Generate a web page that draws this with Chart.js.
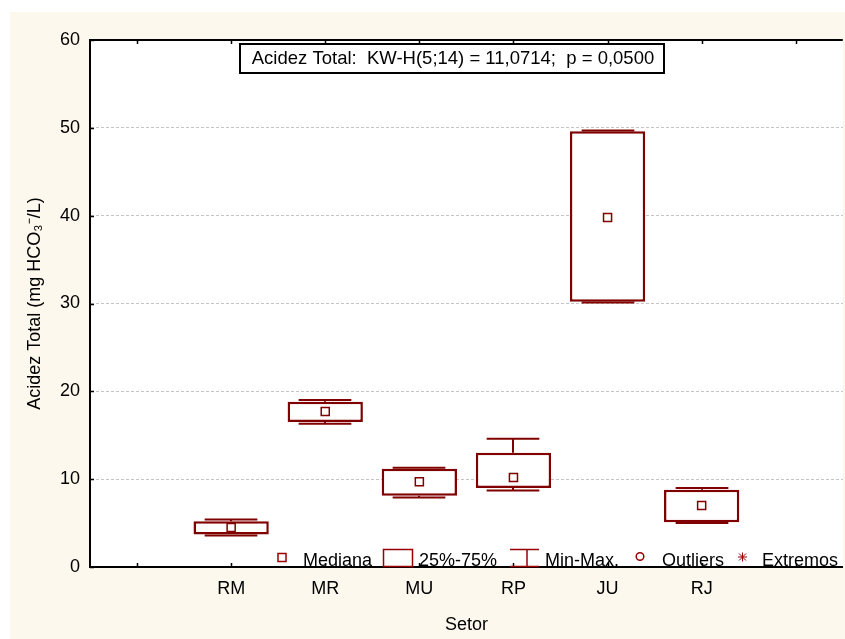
<!DOCTYPE html>
<html>
<head>
<meta charset="utf-8">
<title>Acidez Total por Setor</title>
<script src="https://cdn.jsdelivr.net/npm/chart.js@4"></script>
<style>
    html, body { margin: 0; padding: 0; overflow: hidden; background: #ffffff; }
    #wrap { position: relative; width: 845px; height: 639px; overflow: hidden; }
    canvas { display: block; }
</style>
</head>
<body>
<div id="wrap">
<canvas id="boxChart" width="850" height="639"></canvas>
</div>
<script>
// data
const sectors = ['RM', 'MR', 'MU', 'RP', 'JU', 'RJ'];
const minValues = [3.6, 16.3, 7.9, 8.7, 30.1, 5.0];
const q1Values = [3.7, 16.5, 8.1, 9.0, 30.2, 5.1];
const medianValues = [4.5, 17.7, 9.7, 10.2, 39.8, 7.0];
const q3Values = [5.2, 18.8, 11.2, 13.0, 49.6, 8.8];
const maxValues = [5.4, 19.0, 11.3, 14.6, 49.7, 9.0];
const yTicks = [0, 10, 20, 30, 40, 50, 60];

const titleText = 'Acidez Total:  KW-H(5;14) = 11,0714;  p = 0,0500';
const legendItems = ['Mediana', '25%-75%', 'Min-Max.', 'Outliers', 'Extremos'];

// empty slots at both ends, like the original axis
const categoryLabels = ['', ...sectors, ''];

const boxColor = '#800000';
const symbolColor = '#990000';
const fontFamily = "'Liberation Sans', Arial, sans-serif";

const boxPlotExtras = {
    id: 'boxPlotExtras',
    beforeDraw(chart) {
        const ctx = chart.ctx;
        const { left, top, right, bottom } = chart.chartArea;
        ctx.save();
        ctx.fillStyle = '#ffffff';
        ctx.fillRect(0, 0, chart.width, chart.height);
        ctx.fillStyle = '#fdf8ee';
        ctx.fillRect(10, 12, chart.width - 10, chart.height - 12);
        ctx.fillStyle = '#ffffff';
        ctx.fillRect(left, top, right - left, bottom - top);
        ctx.restore();
    },
    beforeDatasetsDraw(chart) {
        // whiskers (min-max) under the boxes
        const ctx = chart.ctx;
        const xs = chart.scales.x;
        const ys = chart.scales.y;
        const capHalf = (xs.width / categoryLabels.length) * 0.28;
        ctx.save();
        ctx.strokeStyle = boxColor;
        ctx.lineWidth = 2;
        sectors.forEach((s, i) => {
            const px = Math.round(xs.getPixelForValue(i + 1));
            const yMin = ys.getPixelForValue(minValues[i]);
            const yMax = ys.getPixelForValue(maxValues[i]);
            const yQ1 = ys.getPixelForValue(q1Values[i]);
            const yQ3 = ys.getPixelForValue(q3Values[i]);
            ctx.beginPath();
            ctx.moveTo(px, yMax); ctx.lineTo(px, yQ3);
            ctx.moveTo(px, yQ1); ctx.lineTo(px, yMin);
            ctx.moveTo(px - capHalf, yMax); ctx.lineTo(px + capHalf, yMax);
            ctx.moveTo(px - capHalf, yMin); ctx.lineTo(px + capHalf, yMin);
            ctx.stroke();
        });
        ctx.restore();
    },
    afterDraw(chart) {
        const ctx = chart.ctx;
        const { left, top, right, bottom } = chart.chartArea;
        const xs = chart.scales.x;
        const ys = chart.scales.y;
        ctx.save();

        // top frame line and inward ticks
        ctx.strokeStyle = '#000000';
        ctx.lineWidth = 2;
        ctx.beginPath();
        ctx.moveTo(left - 1, top);
        ctx.lineTo(right, top);
        ctx.stroke();
        ctx.lineWidth = 1.5;
        ctx.beginPath();
        categoryLabels.forEach((c, i) => {
            const px = Math.round(xs.getPixelForValue(i)) + 0.5;
            ctx.moveTo(px, top); ctx.lineTo(px, top + 4);
            ctx.moveTo(px, bottom); ctx.lineTo(px, bottom - 4);
        });
        yTicks.forEach(v => {
            const py = Math.round(ys.getPixelForValue(v)) + 0.5;
            ctx.moveTo(left, py); ctx.lineTo(left + 4, py);
        });
        ctx.stroke();

        // statistic box
        ctx.fillStyle = '#ffffff';
        ctx.fillRect(240, 44, 424, 29);
        ctx.lineWidth = 2;
        ctx.strokeStyle = '#000000';
        ctx.strokeRect(240, 44, 424, 29);
        ctx.fillStyle = '#000000';
        ctx.font = '18.5px ' + fontFamily;
        ctx.textAlign = 'center';
        ctx.textBaseline = 'middle';
        ctx.fillText(titleText, 453, 59);

        // legend along the bottom axis
        ctx.font = '18px ' + fontFamily;
        ctx.textAlign = 'left';
        ctx.textBaseline = 'alphabetic';
        ctx.fillText(legendItems[0], 303, 566);
        ctx.fillText(legendItems[1], 419, 566);
        ctx.fillText(legendItems[2], 545, 566);
        ctx.fillText(legendItems[3], 662, 566);
        ctx.fillText(legendItems[4], 762, 566);

        ctx.strokeStyle = symbolColor;
        ctx.lineWidth = 1.5;
        ctx.strokeRect(278, 553.5, 8, 8);
        ctx.strokeRect(383.5, 549.5, 29, 17);
        ctx.beginPath();
        ctx.moveTo(510, 549.5); ctx.lineTo(539, 549.5);
        ctx.moveTo(527, 549.5); ctx.lineTo(527, 566);
        ctx.moveTo(510, 566.5); ctx.lineTo(539, 566.5);
        ctx.stroke();
        ctx.beginPath();
        ctx.arc(640, 556.5, 3.8, 0, Math.PI * 2);
        ctx.stroke();
        ctx.lineWidth = 1;
        ctx.beginPath();
        ctx.moveTo(738, 557); ctx.lineTo(747, 557);
        ctx.moveTo(742.5, 552.5); ctx.lineTo(742.5, 561.5);
        ctx.moveTo(739, 553.5); ctx.lineTo(746, 560.5);
        ctx.moveTo(746, 553.5); ctx.lineTo(739, 560.5);
        ctx.stroke();

        ctx.restore();
    }
};

const ctx = document.getElementById('boxChart').getContext('2d');
new Chart(ctx, {
    type: 'bar',
    data: {
        labels: categoryLabels,
        datasets: [
            {
                type: 'line',
                label: 'Mediana',
                data: [null, ...medianValues, null],
                showLine: false,
                pointStyle: 'rect',
                pointRadius: 5.7,
                pointBorderWidth: 1.5,
                pointBackgroundColor: '#ffffff',
                pointBorderColor: boxColor,
                order: 1,
            },
            {
                label: '25%-75%',
                data: [null, ...sectors.map((s, i) => [q1Values[i], q3Values[i]]), null],
                backgroundColor: '#ffffff',
                borderColor: boxColor,
                borderWidth: 2.5,
                borderSkipped: false,
                barPercentage: 0.8,
                categoryPercentage: 1.0,
                order: 2,
            }
        ]
    },
    options: {
        responsive: false,
        animation: false,
        events: [],
        layout: {
            padding: { top: 40, left: 0, right: 0, bottom: 0 }
        },
        plugins: {
            legend: { display: false },
            title: { display: false },
            tooltip: { enabled: false },
        },
        scales: {
            x: {
                offset: true,
                afterFit: scale => { scale.height = 72; },
                grid: { display: false, drawTicks: false },
                border: { display: true, color: '#000000', width: 2 },
                ticks: {
                    color: '#000000',
                    padding: 11,
                    maxRotation: 0,
                    autoSkip: false,
                    font: { family: fontFamily, size: 18 },
                },
                title: {
                    display: true,
                    text: 'Setor',
                    color: '#000000',
                    font: { family: fontFamily, size: 18 },
                    padding: { top: 0, bottom: 3 },
                },
            },
            y: {
                min: 0,
                max: 60,
                afterFit: scale => { scale.width = 90; },
                afterBuildTicks: scale => { scale.ticks = yTicks.map(v => ({ value: v })); },
                grid: {
                    drawTicks: false,
                    lineWidth: 1,
                    color: c => (c.tick && (c.tick.value === 0 || c.tick.value === 60)) ? 'rgba(0,0,0,0)' : '#c4c4c4',
                },
                border: { display: true, color: '#000000', width: 2, dash: [3, 2] },
                ticks: {
                    color: '#000000',
                    padding: 10,
                    font: { family: fontFamily, size: 18 },
                },
                title: {
                    display: true,
                    text: 'Acidez Total (mg HCO\u2083\u207B/L)',
                    color: '#000000',
                    font: { family: fontFamily, size: 18 },
                    padding: { top: 24, bottom: 0 },
                },
            },
        },
    },
    plugins: [boxPlotExtras],
});
</script>
</body>
</html>
